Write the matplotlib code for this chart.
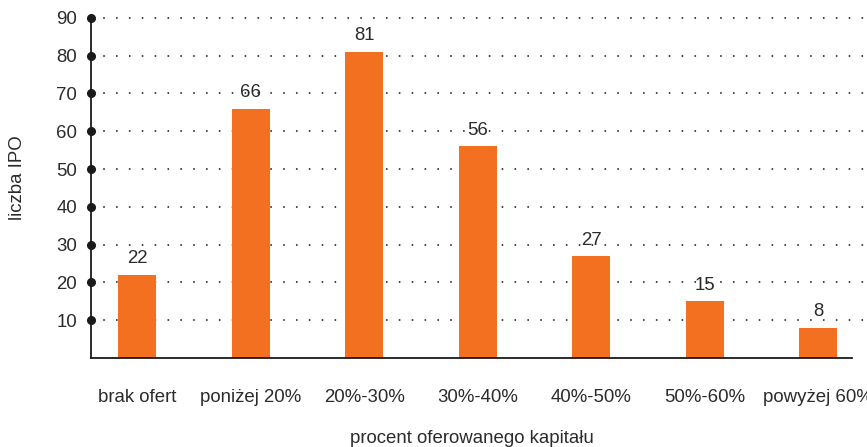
"""Liczba IPO według procentu oferowanego kapitału."""

import matplotlib

matplotlib.use("Agg")
import matplotlib.pyplot as plt  # noqa: E402
import numpy as np  # noqa: E402

categories = ["brak ofert", "poniżej 20%", "20%-30%", "30%-40%",
              "40%-50%", "50%-60%", "powyżej 60%"]
counts = [22, 66, 81, 56, 27, 15, 8]
y_ticks = [10, 20, 30, 40, 50, 60, 70, 80, 90]

ORANGE = "#f37021"
TEXT = "#2b2b2b"

plt.rcParams["font.family"] = ["Liberation Sans", "DejaVu Sans"]
plt.rcParams["font.size"] = 13.4

fig = plt.figure(figsize=(8.67, 4.47), dpi=100)
ax = fig.add_axes([0.105, 0.199, 0.878, 0.761])

x = np.arange(len(categories))
ax.bar(x, counts, width=0.335, color=ORANGE, zorder=2)

# kropkowane linie siatki, odsunięte od osi
for t in y_ticks:
    ax.axhline(t, xmin=0.017, xmax=1.02, color=TEXT, lw=1.4,
               linestyle=(0, (0.01, 6.6)), dash_capstyle="round",
               zorder=1, clip_on=False)

# kropki na osi przy każdej wartości
ax.plot(np.zeros(len(y_ticks)), y_ticks, "o", color="#1a1a1a", ms=5.5,
        transform=ax.get_yaxis_transform(), clip_on=False, zorder=3)

for xi, v in zip(x, counts):
    ax.annotate(str(v), (xi, v), xytext=(0, 11.5), textcoords="offset points",
                ha="center", va="center", color=TEXT, zorder=4)

ax.set_xlim(-0.405, 6.3)
ax.set_ylim(0, 90)
ax.set_xticks(x)
ax.set_xticklabels(categories, color=TEXT)
ax.set_yticks(y_ticks)
ax.set_yticklabels([str(t) for t in y_ticks], color=TEXT)
ax.tick_params(axis="x", length=0, pad=22)
ax.tick_params(axis="y", length=0, pad=10)

for side in ("top", "right"):
    ax.spines[side].set_visible(False)
for side in ("left", "bottom"):
    ax.spines[side].set_color("#1a1a1a")
    ax.spines[side].set_linewidth(1.3)

ax.set_xlabel("procent oferowanego kapitału", color=TEXT, va="center")
ax.xaxis.set_label_coords(0.5, -0.236)
ax.set_ylabel("liczba IPO", color=TEXT, va="center")
ax.yaxis.set_label_coords(-0.096, 0.53)

fig.savefig("out.png", dpi=100)
plt.close(fig)
